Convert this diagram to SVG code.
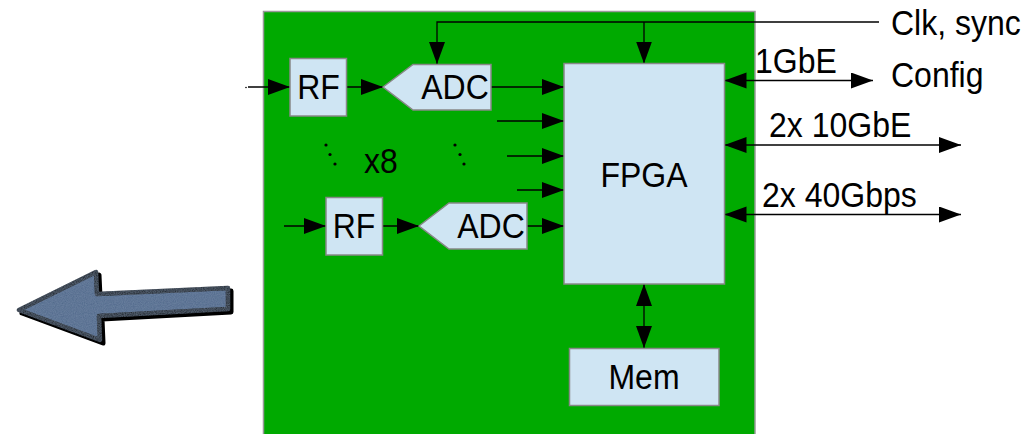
<svg xmlns="http://www.w3.org/2000/svg" width="1032" height="434" viewBox="0 0 1032 434">
  <style>
    .board { fill: #00aa00; stroke: #999999; stroke-width: 1.5; }
    .blk { fill: #cfe5f3; stroke: #888888; stroke-width: 1.5; }
    .lbl { font-family: "Liberation Sans", Arial, sans-serif; font-size: 32px; fill: #000000; }
    .mid { text-anchor: middle; }
    .wire { fill: none; stroke: #000000; stroke-width: 1.3; }
    .dot { fill: #000000; }
  </style>
  <defs>
    <marker id="head" markerUnits="userSpaceOnUse" markerWidth="23" markerHeight="17" refX="22" refY="8" orient="auto-start-reverse" viewBox="0 0 23 17">
      <path d="M0,0 L22,8 L0,16 Z" fill="#000000"/>
    </marker>
    <filter id="grain" x="-5%" y="-5%" width="110%" height="110%">
      <feTurbulence type="fractalNoise" baseFrequency="0.9" numOctaves="2" seed="3" result="n"/>
      <feColorMatrix in="n" type="matrix" values="0 0 0 0 0.3  0 0 0 0 0.4  0 0 0 0 0.55  0 0 0 0.35 0" result="tint"/>
      <feComposite in="tint" in2="SourceGraphic" operator="in" result="t"/>
      <feMerge><feMergeNode in="SourceGraphic"/><feMergeNode in="t"/></feMerge>
    </filter>
  </defs>

  <!-- board -->
  <rect class="board" x="263.5" y="11.5" width="491.5" height="440"/>

  <!-- big left arrow with drop shadow -->
  <g id="left-arrow">
    <polygon points="22,313 99,275 100,297 231,291 231,312 102,319 103,343" fill="#000000" stroke="#000000" stroke-width="5" stroke-linejoin="round"/>
    <polygon points="19,310 96,272 97,294 228,288 228,309 99,316 100,340" fill="#50688a" stroke="#000000" stroke-width="4.5" stroke-linejoin="round" filter="url(#grain)"/>
  </g>

  <!-- connectors -->
  <g id="connectors">
    <!-- clock / sync distribution -->
    <polyline class="wire" points="879,22 437,22 437,64" marker-end="url(#head)"/>
    <line class="wire" x1="644" y1="22" x2="644" y2="63.5" marker-end="url(#head)"/>
    <!-- RF inputs -->
    <line class="wire" x1="248" y1="87" x2="290" y2="87" marker-end="url(#head)"/>
    <line class="wire" x1="284" y1="226" x2="326" y2="226" marker-end="url(#head)"/>
    <!-- RF to ADC -->
    <line class="wire" x1="347" y1="87" x2="383" y2="87" marker-end="url(#head)"/>
    <line class="wire" x1="383" y1="226" x2="419" y2="226" marker-end="url(#head)"/>
    <!-- ADC channels into FPGA -->
    <line class="wire" x1="491" y1="87" x2="564" y2="87" marker-end="url(#head)"/>
    <line class="wire" x1="497" y1="121" x2="564" y2="121" marker-end="url(#head)"/>
    <line class="wire" x1="507" y1="156" x2="564" y2="156" marker-end="url(#head)"/>
    <line class="wire" x1="517" y1="190" x2="564" y2="190" marker-end="url(#head)"/>
    <line class="wire" x1="527" y1="226" x2="564" y2="226" marker-end="url(#head)"/>
    <!-- external links -->
    <line class="wire" x1="724.5" y1="80.5" x2="873" y2="80.5" marker-start="url(#head)" marker-end="url(#head)"/>
    <line class="wire" x1="724.5" y1="145" x2="961" y2="145" marker-start="url(#head)" marker-end="url(#head)"/>
    <line class="wire" x1="724.5" y1="214.5" x2="961" y2="214.5" marker-start="url(#head)" marker-end="url(#head)"/>
    <!-- FPGA to memory -->
    <line class="wire" x1="644" y1="284" x2="644" y2="348" stroke="#004400" marker-start="url(#head)" marker-end="url(#head)"/>
    <circle class="dot" cx="246" cy="87.5" r="0.8"/>
  </g>

  <g id="rf1">
    <rect class="blk" x="290" y="58.5" width="56.5" height="57.5"/>
    <text class="lbl mid" transform="translate(318.5,99) scale(1,1.07)">RF</text>
  </g>
  <g id="adc1">
    <polygon class="blk" points="383,87 413,64.5 491,64.5 491,110 413,110"/>
    <text class="lbl mid" transform="translate(455,99) scale(1,1.07)">ADC</text>
  </g>
  <g id="rf2">
    <rect class="blk" x="326" y="197.5" width="56.5" height="57.5"/>
    <text class="lbl mid" transform="translate(354,238) scale(1,1.07)">RF</text>
  </g>
  <g id="adc2">
    <polygon class="blk" points="419,226 449,203 527,203 527,249 449,249"/>
    <text class="lbl mid" transform="translate(491,238) scale(1,1.07)">ADC</text>
  </g>

  <g id="repeat">
    <circle class="dot" cx="326" cy="145" r="1.6"/>
    <circle class="dot" cx="330" cy="154.5" r="1.6"/>
    <circle class="dot" cx="335" cy="164" r="1.6"/>
    <circle class="dot" cx="455" cy="145" r="1.6"/>
    <circle class="dot" cx="460" cy="154.5" r="1.6"/>
    <circle class="dot" cx="464" cy="164" r="1.6"/>
    <text class="lbl" transform="translate(364,173) scale(1,1.07)">x8</text>
  </g>

  <g id="fpga">
    <rect class="blk" x="564" y="63.5" width="160.5" height="220.5"/>
    <text class="lbl mid" transform="translate(644,187) scale(1,1.07)">FPGA</text>
  </g>
  <g id="mem">
    <rect class="blk" x="569.5" y="348.5" width="149.5" height="57"/>
    <text class="lbl mid" transform="translate(644,389) scale(1,1.07)">Mem</text>
  </g>

  <g id="labels">
    <text class="lbl" transform="translate(891,35) scale(1,1.07)">Clk, sync</text>
    <text class="lbl" transform="translate(755,73) scale(1,1.07)">1GbE</text>
    <text class="lbl" transform="translate(891,87) scale(1,1.07)">Config</text>
    <text class="lbl" transform="translate(769,137) scale(1,1.07)">2x 10GbE</text>
    <text class="lbl" transform="translate(762,207) scale(1,1.07)">2x 40Gbps</text>
  </g>
</svg>
